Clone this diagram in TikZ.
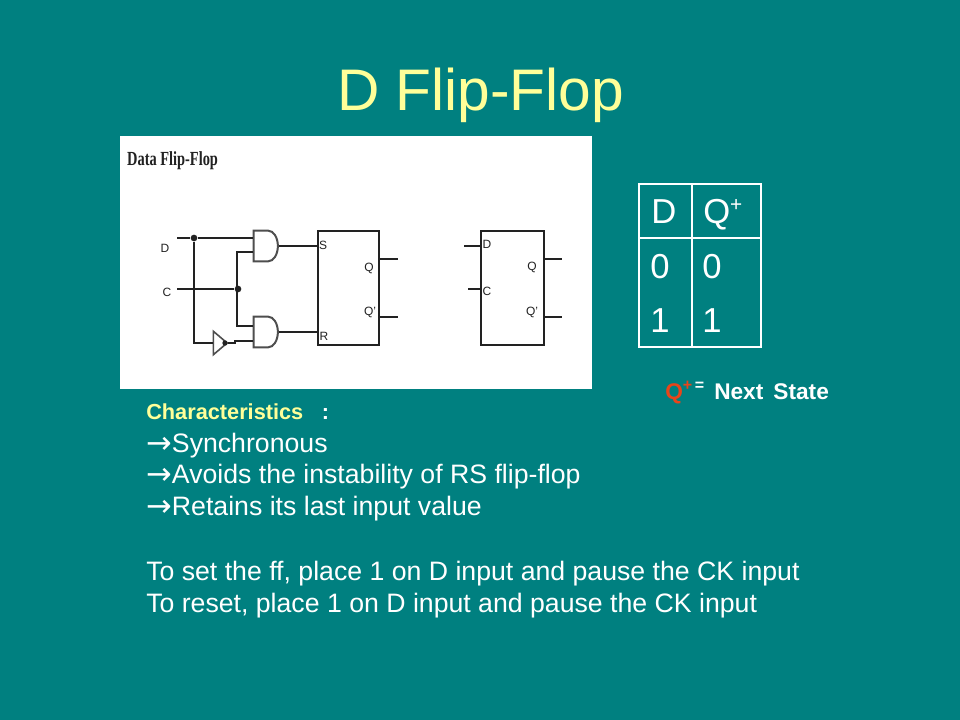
\documentclass[tikz,border=0pt]{standalone}
\usepackage{fontspec}
\setmainfont{Liberation Sans}
\newfontfamily\scanfont{Liberation Serif}
\newfontfamily\arrowfont{DejaVu Sans}
\usetikzlibrary{shapes.gates.logic.US}
\definecolor{slidebg}{HTML}{008080}
\definecolor{slideyel}{HTML}{FFFF99}
\definecolor{slidered}{HTML}{E8451A}
\definecolor{wireblk}{HTML}{222222}
\newcommand{\sizedfont}[1]{\fontsize{#1}{#1}\selectfont}
\newcommand{\cellplus}{\raisebox{.36em}{\sizedfont{15.6}+}}
\newcommand{\keyup}[1]{\raisebox{.36em}{\sizedfont{12}#1}}
\newcommand{\bularrow}{\raisebox{-1.2pt}{\arrowfont\sizedfont{23}→}}
\tikzset{
    titletxt/.style = {anchor=base,text=slideyel,font=\sizedfont{44}},
    bodytxt/.style = {anchor=base west,inner sep=0pt,text=white,font=\sizedfont{20}},
    celltxt/.style = {anchor=base west,inner sep=0pt,text=white,font=\sizedfont{26}},
    keytxt/.style = {anchor=base west,inner sep=0pt,text=white,font=\sizedfont{17}\bfseries},
    chartxt/.style = {anchor=base west,inner sep=0pt,text=white,font=\sizedfont{16.3}\bfseries},
    pintxt/.style = {inner sep=0pt,text=wireblk,font=\sizedfont{9}},
    ffbox/.style = {rectangle,draw=wireblk,line width=1.5pt,inner sep=0pt,minimum width=46pt,minimum height=85.5pt},
    andg/.style = {and gate US,draw=wireblk!80,line width=1.5pt,inner sep=0pt,minimum width=18pt,minimum height=23pt,logic gate inputs=nn,xscale=.63},
    invg/.style = {buffer gate US,draw=wireblk!80,line width=1.2pt,inner sep=0pt,minimum width=9pt,minimum height=15pt,xscale=.55},
    joint/.style = {circle,fill=wireblk,inner sep=0pt,minimum size=5pt},
    wire/.style = {-,line width=1.5pt,wireblk},
    cellline/.style = {draw=white,line width=1pt}
}
\begin{document}
\begin{tikzpicture}[x=0.75pt,y=-0.75pt]
\path[use as bounding box,fill=slidebg] (0,0) rectangle (960,720);
\node[titletxt] (title) at (480.5,111) {D Flip-Flop};
\node[rectangle,fill=white,inner sep=0pt,minimum width=354pt,minimum height=189.75pt] (scan) at (356,262.5) {};
\node[anchor=west,inner sep=0pt,text=wireblk,xscale=.72,font=\scanfont\sizedfont{15}\bfseries] (scantitle) at (127,161) {Data Flip-Flop};
%
\node[ffbox] (ffa) at (348.5,288) {};
\node[ffbox,minimum width=47pt] (ffb) at (512.5,288) {};
\node[andg] (ands) at (265,246) {};
\node[andg] (andr) at (265,332) {};
\node[invg] (inv) at (218,343) {};
\node[joint] (jd) at (194,238) {};
\node[joint] (jc) at (238,289) {};
\node[joint,minimum size=4pt] (jn) at (225,343) {};
%
\node[pintxt] (ld) at (165,248) {D};
\node[pintxt] (lc) at (167,292) {C};
\node[pintxt] (ls) at (323,245) {S};
\node[pintxt] (lr) at (324,336) {R};
\node[pintxt] (lq) at (369,268) {Q};
\node[pintxt] (lqn) at (370,312) {Q'};
\node[pintxt] (bd) at (487,244) {D};
\node[pintxt] (bc) at (487,291) {C};
\node[pintxt] (bq) at (532,267) {Q};
\node[pintxt] (bqn) at (532,312) {Q'};
%
\coordinate (ind) at (177,238);
\coordinate (inc) at (177,289);
\coordinate (ins) at (253,238);
\coordinate (int) at (253,252);
\coordinate (inr) at (253,326);
\coordinate (inn) at (253,341);
\coordinate (inb) at (237,252);
\coordinate (ine) at (237,326);
\coordinate (ss) at (318,246);
\coordinate (rr) at (318,332);
\coordinate (qa) at (379,259);
\coordinate (qae) at (398,259);
\coordinate (na) at (379,317);
\coordinate (nae) at (398,317);
\coordinate (db) at (481,246);
\coordinate (dbe) at (464,246);
\coordinate (cb) at (481,289);
\coordinate (cbe) at (468,289);
\coordinate (qb) at (544,259);
\coordinate (qbe) at (562,259);
\coordinate (nb) at (544,317);
\coordinate (nbe) at (562,317);
%
\draw[wire] (ind) -- (jd);
\draw[wire] (jd) -- (ins);
\draw[wire] (inc) -- (jc);
\draw[wire] (jd) |- (inv.west);
\draw[wire] (int) -- (inb) -- (ine) -- (inr);
\draw[wire] (jn) -- ++(10,0) -- ++(0,-2) -- (inn);
\draw[wire] (ands.output) -- (ss);
\draw[wire] (andr.output) -- (rr);
\draw[wire] (qa) -- (qae);
\draw[wire] (na) -- (nae);
\draw[wire] (db) -- (dbe);
\draw[wire] (cb) -- (cbe);
\draw[wire] (qb) -- (qbe);
\draw[wire] (nb) -- (nbe);
%
\node[rectangle,draw=white,line width=2pt,inner sep=0pt,minimum width=91.5pt,minimum height=122.25pt] (tbl) at (700,265.5) {};
\draw[cellline] (692,184) -- (692,347);
\draw[cellline] (639,238) -- (761,238);
\node[celltxt] (th) at (651,224) {D};
\node[celltxt] (tq) at (703,224) {Q\cellplus};
\node[celltxt] (za) at (650,279) {0};
\node[celltxt] (zb) at (702,279) {0};
\node[celltxt] (oa) at (650,332) {1};
\node[celltxt] (ob) at (702,332) {1};
%
\node[keytxt] (key) at (665,399) {\textcolor{slidered}{Q\keyup{+}}\hspace{2pt}\keyup{=}\hspace{7.5pt}Next\, State};
\node[chartxt] (chars) at (146,419) {\textcolor{slideyel}{Characteristics}\hspace{14pt}:};
\node[bodytxt] (la) at (146,452) {\bularrow Synchronous};
\node[bodytxt] (lb) at (146,483) {\bularrow Avoids the instability of RS flip-flop};
\node[bodytxt] (lk) at (146,515) {\bularrow Retains its last input value};
\node[bodytxt] (le) at (146,580) {To set the ff, place 1 on D input and pause the CK input};
\node[bodytxt] (lf) at (146,612) {To reset, place 1 on D input and pause the CK input};
\end{tikzpicture}
\end{document}
